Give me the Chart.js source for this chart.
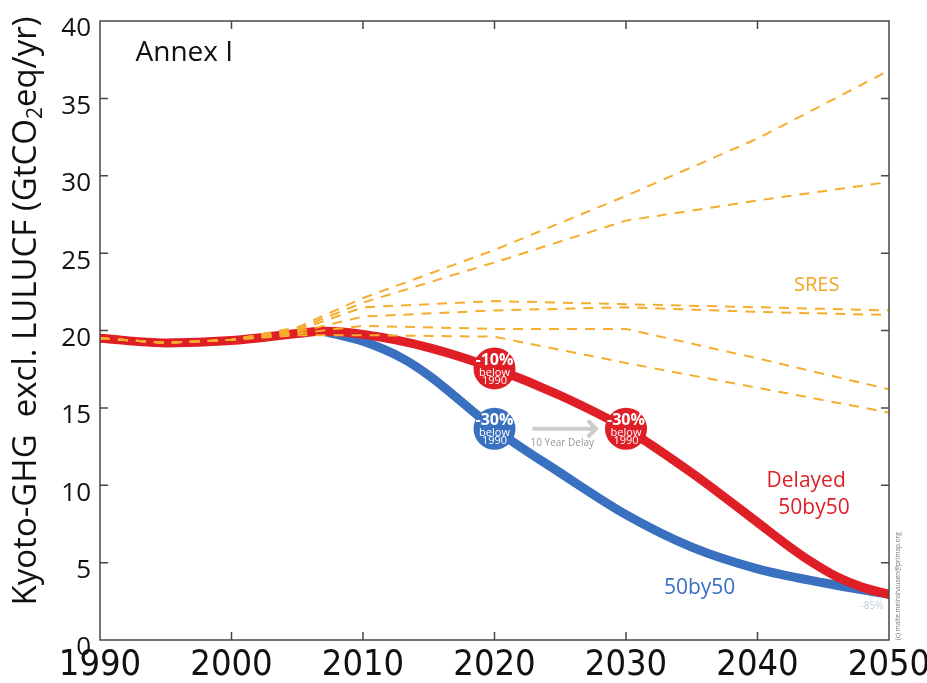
<!DOCTYPE html>
<html>
<head>
<meta charset="utf-8">
<script src="https://cdn.jsdelivr.net/npm/chart.js@4/dist/chart.umd.min.js"></script>
<style>
  html, body { margin: 0; padding: 0; background: #fff; }
  canvas { display: block; }
</style>
</head>
<body>
<canvas id="c" width="927" height="683"></canvas>
<script>
// Tick labels
const xTickLabels = ['1990', '2000', '2010', '2020', '2030', '2040', '2050'];
const yTickLabels = ['0', '5', '10', '15', '20', '25', '30', '35', '40'];

// Delayed 50by50 pathway (GtCO2eq/yr)
const delayedYears  = [1990, 1995, 2000, 2005, 2007, 2010, 2015, 2020, 2025, 2030, 2035, 2040, 2042, 2044, 2046, 2048, 2050];
const delayedValues = [19.5, 19.2, 19.35, 19.8, 19.95, 19.75, 18.9, 17.55, 15.8, 13.65, 10.8, 7.6, 6.3, 5.1, 4.1, 3.4, 2.95];

// 50by50 pathway
const fiftyYears  = [2007, 2010, 2013, 2015, 2020, 2025, 2030, 2035, 2040, 2045, 2050];
const fiftyValues = [19.95, 19.3, 18.2, 17.1, 13.65, 10.8, 8.1, 6.0, 4.6, 3.7, 2.95];

// SRES reference scenarios
const sresYears = [1990, 1995, 2000, 2005, 2010, 2020, 2030, 2040, 2050];
const sresA = [19.5, 19.2, 19.4, 20.2, 22.1, 25.2, 28.7, 32.4, 36.8];
const sresB = [19.5, 19.2, 19.4, 20.1, 21.8, 24.4, 27.1, 28.4, 29.6];
const sresC = [19.5, 19.2, 19.4, 20.0, 21.5, 21.9, 21.7, 21.5, 21.3];
const sresD = [19.5, 19.2, 19.4, 19.9, 20.9, 21.3, 21.5, 21.2, 21.0];
const sresE = [19.5, 19.2, 19.4, 19.8, 20.3, 20.1, 20.1, 18.2, 16.2];
const sresF = [19.5, 19.2, 19.4, 19.7, 19.7, 19.6, 17.9, 16.3, 14.7];

// Milestone markers
const delayedMarkerYears  = [2020, 2030];
const delayedMarkerValues = [17.55, 13.65];
const delayedMarkerLabels = ['-10%', '-30%'];
const fiftyMarkerYears  = [2020];
const fiftyMarkerValues = [13.65];
const fiftyMarkerLabels = ['-30%'];

const RED = 'rgb(224,30,38)';
const BLUE = 'rgb(58,112,192)';
const ORANGE = 'rgb(246,172,45)';
const SANS = "'Open Sans', 'Noto Sans', sans-serif";
const NARROW = "'Liberation Sans Narrow', 'DejaVu Sans Condensed', sans-serif";

const pts = (xs, ys) => xs.map((v, i) => ({ x: v, y: ys[i] }));

const sresStyle = {
  borderColor: ORANGE, borderWidth: 2, borderDash: [10, 8],
  pointRadius: 0, tension: 0, fill: false
};

const datasets = [
  { label: 'delayedMarkers', data: pts(delayedMarkerYears, delayedMarkerValues),
    showLine: false, pointRadius: 21, pointHoverRadius: 21, pointBorderWidth: 0,
    pointBackgroundColor: RED, borderColor: RED },
  { label: 'fiftyMarkers', data: pts(fiftyMarkerYears, fiftyMarkerValues),
    showLine: false, pointRadius: 21, pointHoverRadius: 21, pointBorderWidth: 0,
    pointBackgroundColor: BLUE, borderColor: BLUE },
  Object.assign({ label: 'SRES A', data: pts(sresYears, sresA) }, sresStyle),
  Object.assign({ label: 'SRES B', data: pts(sresYears, sresB) }, sresStyle),
  Object.assign({ label: 'SRES C', data: pts(sresYears, sresC) }, sresStyle),
  Object.assign({ label: 'SRES D', data: pts(sresYears, sresD) }, sresStyle),
  Object.assign({ label: 'SRES E', data: pts(sresYears, sresE) }, sresStyle),
  Object.assign({ label: 'SRES F', data: pts(sresYears, sresF) }, sresStyle),
  { label: 'Delayed 50by50', data: pts(delayedYears, delayedValues),
    borderColor: RED, borderWidth: 9, pointRadius: 0, cubicInterpolationMode: 'monotone',
    borderCapStyle: 'round', borderJoinStyle: 'round' },
  { label: '50by50', data: pts(fiftyYears, fiftyValues),
    borderColor: BLUE, borderWidth: 9, pointRadius: 0, cubicInterpolationMode: 'monotone',
    borderCapStyle: 'round', borderJoinStyle: 'round' }
];

function text(ctx, str, px, py, font, color, align) {
  ctx.font = font;
  ctx.fillStyle = color;
  ctx.textAlign = align || 'center';
  ctx.textBaseline = 'middle';
  ctx.fillText(str, px, py);
}

const overlay = {
  id: 'overlay',
  afterDraw(chart) {
    const { ctx, chartArea: a } = chart;
    const x = chart.scales.x, y = chart.scales.y;
    const X = v => x.getPixelForValue(v), Y = v => y.getPixelForValue(v);
    ctx.save();

    // Frame and inward tick marks
    ctx.strokeStyle = '#474747';
    ctx.lineWidth = 1.5;
    ctx.strokeRect(a.left, a.top, a.right - a.left, a.bottom - a.top);
    ctx.beginPath();
    x.ticks.forEach(t => {
      if (t.value <= x.min || t.value >= x.max) return;
      const px = X(t.value);
      ctx.moveTo(px, a.bottom); ctx.lineTo(px, a.bottom - 8);
      ctx.moveTo(px, a.top); ctx.lineTo(px, a.top + 8);
    });
    y.ticks.forEach(t => {
      if (t.value <= y.min || t.value >= y.max) return;
      const py = Y(t.value);
      ctx.moveTo(a.left, py); ctx.lineTo(a.left + 8, py);
      ctx.moveTo(a.right, py); ctx.lineTo(a.right - 8, py);
    });
    ctx.stroke();

    // Delay arrow between the two -30% milestones
    const ay = Y(fiftyMarkerValues[0]);
    const ax0 = X(fiftyMarkerYears[0]) + 38, ax1 = X(delayedMarkerYears[1]) - 30;
    ctx.strokeStyle = 'rgb(205,205,205)';
    ctx.lineWidth = 4;
    ctx.lineCap = 'butt';
    ctx.beginPath();
    ctx.moveTo(ax0, ay); ctx.lineTo(ax1, ay);
    ctx.stroke();
    ctx.lineCap = 'round';
    ctx.lineJoin = 'round';
    ctx.beginPath();
    ctx.moveTo(ax1 - 7, ay - 7); ctx.lineTo(ax1, ay); ctx.lineTo(ax1 - 7, ay + 7);
    ctx.stroke();
    text(ctx, '10 Year Delay', (ax0 + ax1) / 2 - 2, ay + 14, "10px " + SANS, 'rgb(150,150,150)');

    // Milestone labels
    const badge = (yr, val, lab) => {
      const px = X(yr), py = Y(val);
      text(ctx, lab, px, py - 8, "bold 16px " + SANS, '#fff');
      text(ctx, 'below', px, py + 4, "11px " + SANS, '#fff');
      text(ctx, '1990', px, py + 12, "11px " + SANS, '#fff');
    };
    delayedMarkerYears.forEach((yr, i) => badge(yr, delayedMarkerValues[i], delayedMarkerLabels[i]));
    fiftyMarkerYears.forEach((yr, i) => badge(yr, fiftyMarkerValues[i], fiftyMarkerLabels[i]));

    // Annotations
    text(ctx, 'Annex I', X(1992.7), Y(37.9), "28px " + SANS, '#111', 'left');
    text(ctx, 'SRES', X(2044.5), Y(22.95), "20px " + SANS, 'rgb(242,165,35)');
    text(ctx, 'Delayed', X(2043.7), Y(10.3), "21px " + SANS, RED);
    text(ctx, '50by50', X(2044.3), Y(8.5), "21px " + SANS, RED);
    text(ctx, '50by50', X(2035.6), Y(3.33), "21px " + SANS, BLUE);
    text(ctx, '-85%', X(2048.7), Y(2.2), "10px " + SANS, 'rgb(195,205,220)');

    // Credit line along the right axis
    ctx.save();
    ctx.translate(a.right + 9, a.bottom);
    ctx.rotate(-Math.PI / 2);
    text(ctx, '(c) malte.meinshausen@primap.org', 0, 0, "6.5px " + SANS, 'rgb(120,120,120)', 'left');
    ctx.restore();

    // Vertical axis title with subscript
    ctx.save();
    ctx.translate(27, 311);
    ctx.rotate(-Math.PI / 2);
    const big = "33px " + SANS, small = "21px " + SANS;
    const p1 = 'Kyoto-GHG  excl. LULUCF (GtCO', p2 = '2', p3 = 'eq/yr)';
    ctx.font = big; const w1 = ctx.measureText(p1).width, w3 = ctx.measureText(p3).width;
    ctx.font = small; const w2 = ctx.measureText(p2).width;
    let sx = -(w1 + w2 + w3) / 2;
    text(ctx, p1, sx, 0, big, '#111', 'left'); sx += w1;
    text(ctx, p2, sx, 9, small, '#111', 'left'); sx += w2;
    text(ctx, p3, sx, 0, big, '#111', 'left');
    ctx.restore();

    ctx.restore();
  }
};

new Chart(document.getElementById('c'), {
  type: 'line',
  data: { datasets },
  plugins: [overlay],
  options: {
    responsive: false,
    devicePixelRatio: 1,
    animation: false,
    events: [],
    layout: { padding: { left: 0, right: 38, top: 16, bottom: 0 } },
    plugins: { legend: { display: false }, tooltip: { enabled: false } },
    scales: {
      x: {
        type: 'linear', min: 1990, max: 2050,
        afterFit: s => { s.height = 43; s.paddingLeft = 0; s.paddingRight = 0; },
        border: { display: false },
        grid: { display: false, drawTicks: false },
        ticks: {
          stepSize: 10, autoSkip: false, maxRotation: 0, padding: 4,
          color: '#111', font: { family: NARROW, size: 36 },
          callback: (v, i) => xTickLabels[i]
        }
      },
      y: {
        type: 'linear', min: 0, max: 40,
        afterFit: s => { s.width = 100; s.paddingTop = 0; s.paddingBottom = 0; },
        border: { display: false },
        grid: { display: false, drawTicks: false },
        ticks: {
          stepSize: 5, autoSkip: false, padding: 9, labelOffset: 8,
          color: '#111', font: { family: SANS, size: 26 },
          callback: (v, i) => yTickLabels[i]
        }
      }
    }
  }
});
</script>
</body>
</html>
